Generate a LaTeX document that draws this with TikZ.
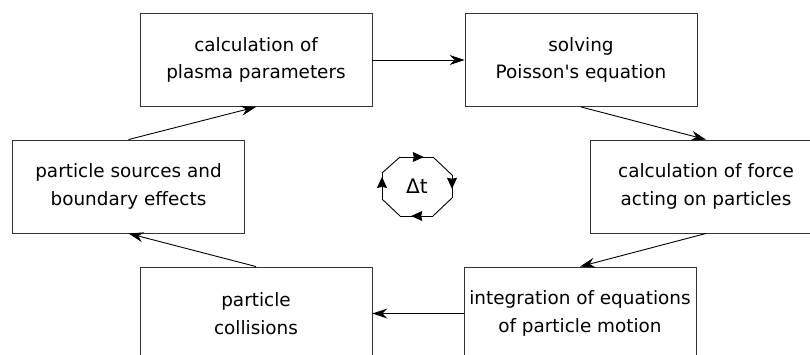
\documentclass[tikz,border=0pt]{standalone}
\usepackage{fontspec}
\setmainfont{DejaVu Sans}[Ligatures=TeXOff]
\usetikzlibrary{arrows.meta,decorations.markings}
\tikzset{
  box/.style={draw=black!80, line width=0.9pt, minimum width=232pt, minimum height=93pt,
    align=center, inner sep=0pt, font=\fontsize{18.4}{27.5}\selectfont},
  conn/.style={draw=black, line width=0.9pt, -{Stealth[length=15pt,width=10pt,inset=5pt]}},
  oct/.style={draw=black, line width=0.9pt},
  midarrow/.style={postaction={decorate}, decoration={markings,
      mark=at position #1 with {\arrow{Stealth[length=11pt,width=10pt,inset=1pt]}}}}
}
\begin{document}
\begin{tikzpicture}[x=1pt,y=-1pt]
\useasboundingbox (0,0) rectangle (810,354);
\clip (0,0) rectangle (810,354);
\node[box] (plasma) at (256,60) {calculation of\\plasma parameters};
\node[box] (poisson) at (581,60) {solving\\Poisson's equation};
\node[box] (force) at (706,186.5) {calculation of force\\acting on particles};
\node[box] (integ) at (580,313.5) {integration of equations\\of particle motion};
\node[box] (coll) at (256,313.5) {particle\\collisions};
\node[box] (src) at (128.5,186.5) {particle sources and\\boundary effects};
\draw[conn] (plasma.east) -- (poisson.west);
\draw[conn] (poisson.south) -- (force.north);
\draw[conn] (force.south) -- (integ.north);
\draw[conn] (integ.west) -- (coll.east);
\draw[conn] (coll.north) -- (src.south);
\draw[conn] (src.north) -- (plasma.south);
% octagon cycle
\draw[oct] (433,157) -- (452,175) (452,198) -- (433,216) (400,216) -- (382,199) (382,173) -- (400,157);
\draw[oct,midarrow=0.72] (400,157) -- (433,157);
\draw[oct,midarrow=0.6] (452,175) -- (452,198);
\draw[oct,midarrow=0.66] (433,216) -- (400,216);
\draw[oct,midarrow=0.85] (382,199) -- (382,173);
\node[font=\fontsize{20}{22}\selectfont] (dt) at (417,186.5) {Δt};
\end{tikzpicture}
\end{document}
